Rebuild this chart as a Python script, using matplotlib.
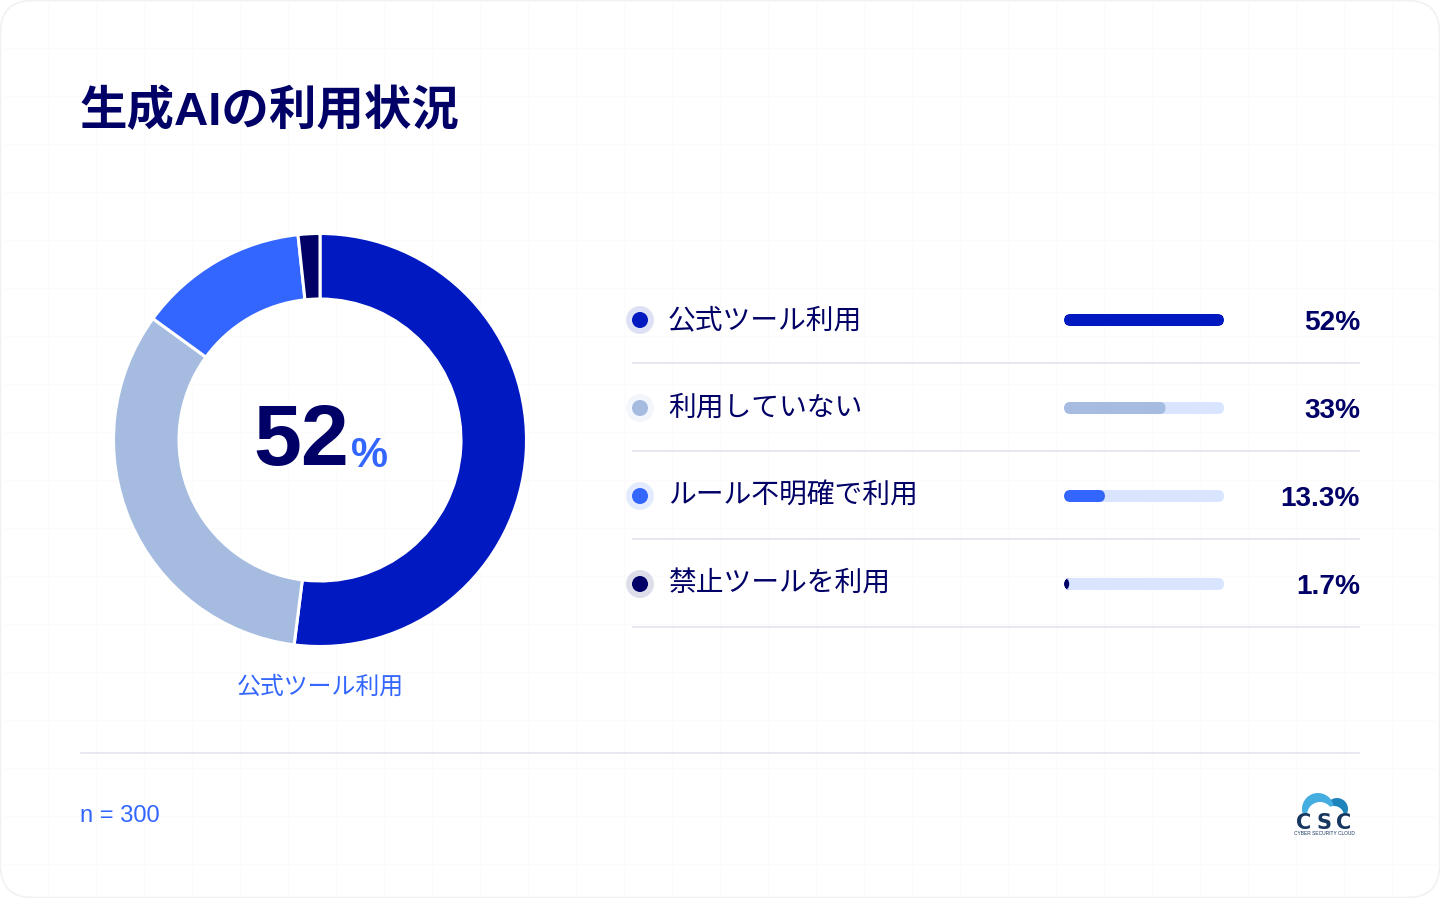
import matplotlib
matplotlib.use("Agg")
import matplotlib.pyplot as plt
from matplotlib.patches import Circle, FancyBboxPatch, Rectangle

title = "生成AIの利用状況"
categories = ["公式ツール利用", "利用していない", "ルール不明確で利用", "禁止ツールを利用"]
values = [52, 33, 13.3, 1.7]
value_labels = ["52%", "33%", "13.3%", "1.7%"]
center_value = "52"
center_unit = "%"
center_caption = "公式ツール利用"
footnote = "n = 300"

colors = ["#0019C0", "#A5BCE0", "#3366FF", "#000066"]
navy = "#000066"
blue = "#3366FF"
track = "#D9E5FF"
rule = "#E4E4F0"

JP = ["Noto Sans CJK JP", "DejaVu Sans"]
LATIN_JP = ["Liberation Sans", "Noto Sans CJK JP"]

fig = plt.figure(figsize=(14.4, 8.98), dpi=100, facecolor="white")
ax = fig.add_axes([0, 0, 1, 1])

# donut first, pie() resets the limits so they get set after it
# y axis is flipped below, so -90 + counterclock ends up clockwise from the top
ax.pie(values, colors=colors, center=(320, 440), radius=206.5, startangle=-90,
       counterclock=True, wedgeprops=dict(width=65.5, edgecolor="white", linewidth=2.2, zorder=3))
ax.set_xlim(0, 1440)
ax.set_ylim(898, 0)
ax.set_aspect("equal")
ax.axis("off")

# card with faint grid
card = FancyBboxPatch((0.5, 0.5), 1439, 897, boxstyle="round,pad=0,rounding_size=32",
                      facecolor="white", edgecolor="#F1F1F3", linewidth=1.2, zorder=0)
ax.add_patch(card)
for gx in range(48, 1440, 48):
    line = ax.plot([gx, gx], [0, 898], color="#FBFBFC", lw=0.8, zorder=1)[0]
    line.set_clip_path(card)
for gy in range(48, 898, 48):
    line = ax.plot([0, 1440], [gy, gy], color="#FBFBFC", lw=0.8, zorder=1)[0]
    line.set_clip_path(card)

ax.text(80, 125, title, fontsize=34.2, fontweight="bold", color=navy, family=LATIN_JP, va="baseline")

# center of donut
ax.text(349, 465, center_value, fontsize=62, fontweight="bold", color=navy, family="Liberation Sans",
        ha="right", va="baseline", zorder=5)
ax.text(351, 467, center_unit, fontsize=30, fontweight="bold", color=blue, family="Liberation Sans",
        ha="left", va="baseline", zorder=5)
ax.text(320, 694, center_caption, fontsize=17.2, color=blue, family=JP, ha="center", va="baseline")

# legend rows
row_top = 320
row_step = 88
bar_left = 1064
bar_width = 160
bar_height = 12
for i, name in enumerate(categories):
    y = row_top + i * row_step
    ax.add_patch(Circle((640, y), 14, facecolor=colors[i], alpha=0.13, edgecolor="none", zorder=2))
    ax.add_patch(Circle((640, y), 8, facecolor=colors[i], edgecolor="none", zorder=3))
    ax.text(668, y + 8, name, fontsize=20, color=navy, family=JP, va="baseline")

    back = FancyBboxPatch((bar_left, y - bar_height / 2), bar_width, bar_height,
                          boxstyle="round,pad=0,rounding_size=6", facecolor=track, edgecolor="none", zorder=3)
    ax.add_patch(back)
    # longest value fills the whole track
    fill_width = bar_width * values[i] / max(values)
    fill = FancyBboxPatch((bar_left, y - bar_height / 2), fill_width, bar_height,
                          boxstyle="round,pad=0,rounding_size=6", facecolor=colors[i], edgecolor="none",
                          zorder=4, mutation_aspect=1)
    ax.add_patch(fill)
    fill.set_clip_path(back)

    ax.text(1360, y + 10, value_labels[i], fontsize=20.2, fontweight="bold", color=navy,
            family="Liberation Sans", ha="right", va="baseline")
    ax.plot([632, 1360], [y + 43, y + 43], color=rule, lw=1.2, zorder=2, solid_capstyle="butt")

# footer
ax.plot([80, 1360], [753, 753], color=rule, lw=1.2, zorder=2, solid_capstyle="butt")
ax.text(80, 822, footnote, fontsize=17.1, color=blue, family="Liberation Sans", va="baseline")

# logo
ax.add_patch(Circle((1337, 809), 11, facecolor="#1F84BC", edgecolor="none", zorder=3))
ax.add_patch(Circle((1318, 809), 16, facecolor="#45AEE0", edgecolor="none", zorder=3))
ax.add_patch(Circle((1320, 815), 13, facecolor="white", edgecolor="none", zorder=4))
ax.add_patch(Circle((1334, 816), 10, facecolor="white", edgecolor="none", zorder=4))
ax.add_patch(Rectangle((1298, 813), 54, 16, facecolor="white", edgecolor="none", zorder=4))
for cx, letter in zip([1304, 1324, 1344], "CSC"):
    ax.text(cx, 829, letter, fontsize=15, fontweight="bold", color="#17375E", family="DejaVu Sans",
            ha="center", va="baseline", zorder=5)
ax.text(1324, 835, "CYBER SECURITY CLOUD", fontsize=3.5, color="#17375E", family="Liberation Sans",
        ha="center", va="baseline", zorder=5)

fig.savefig("out.png", dpi=100)
